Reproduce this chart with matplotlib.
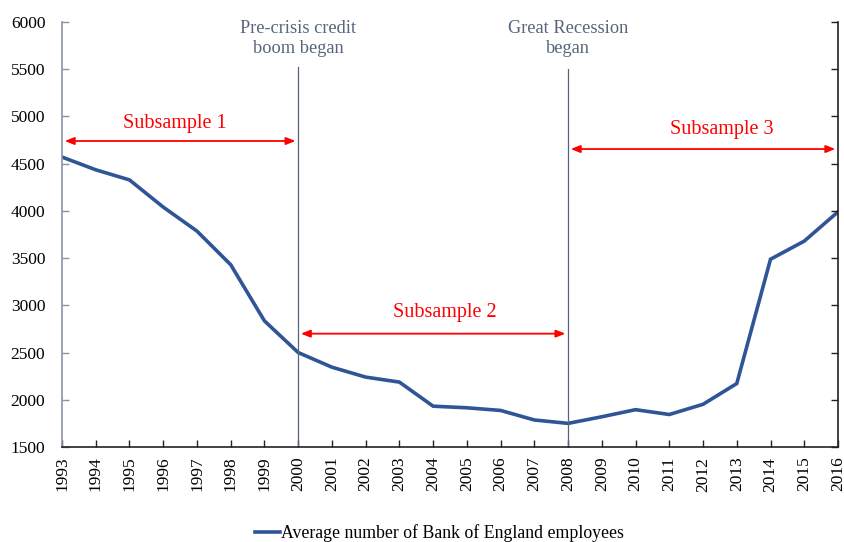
import matplotlib
matplotlib.use("Agg")
import matplotlib.pyplot as plt

years = list(range(1993, 2017))
employees = [4570, 4435, 4328, 4040, 3786, 3430, 2835, 2500, 2345, 2240, 2187,
             1932, 1915, 1887, 1786, 1750, 1820, 1895, 1844, 1952, 2172, 3488, 3680, 3990]
series_label = "Average number of Bank of England employees"

events = [2000, 2008]
event_labels = ["Pre-crisis credit\nboom began", "Great Recession\nbegan"]
event_tops = [5525, 5500]

sub_labels = ["Subsample 1", "Subsample 2", "Subsample 3"]
sub_ranges = [(1993, 2000), (2000, 2008), (2008, 2016)]
sub_arrow_y = [4740, 2700, 4655]
sub_text_pos = [(1996.35, 4930), (2004.35, 2925), (2012.55, 4865)]

plt.rcParams['font.family'] = ['Liberation Serif', 'DejaVu Serif']

fig = plt.figure(figsize=(8.45, 5.42), dpi=100)
ax = fig.add_axes([0.0734, 0.1753, 0.9183, 0.7841])

line_color = '#2f5597'
ax.plot(years, employees, color=line_color, lw=2.6, label=series_label, solid_joinstyle='miter')

ax.set_xlim(1993, 2016)
ax.set_ylim(1500, 6000)
ax.set_yticks(range(1500, 6001, 500))
ax.set_xticks(years)
ax.set_xticklabels([str(y) for y in years], rotation=90)

# right axis ticks without labels
ax2 = ax.twinx()
ax2.set_ylim(1500, 6000)
ax2.set_yticks(range(1500, 6001, 500))
ax2.set_yticklabels([])
ax2.tick_params(axis='y', direction='in', length=5, width=1, colors='#222222')
for s in ['top', 'left', 'bottom']:
    ax2.spines[s].set_visible(False)
ax2.spines['right'].set_color('#222222')
ax2.spines['right'].set_linewidth(1.2)

ax.spines['top'].set_visible(False)
ax.spines['right'].set_visible(False)
ax.spines['left'].set_color('#8a93a3')
ax.spines['left'].set_linewidth(1.2)
ax.spines['bottom'].set_color('#222222')
ax.spines['bottom'].set_linewidth(1.2)
ax.tick_params(axis='y', direction='in', length=5, width=1, color='#8a93a3', labelsize=12.5, pad=12)
ax.tick_params(axis='x', direction='in', length=5, width=1, color='#222222', labelsize=12.5, pad=7)

ev_color = '#56657a'
for x, lab, top in zip(events, event_labels, event_tops):
    ax.plot([x, x], [1500, top], color=ev_color, lw=0.9)
    ax.text(x, 6020, lab, ha='center', va='top', color=ev_color, fontsize=13.2, linespacing=1.25)

red = '#ff0000'
for (x0, x1), yv in zip(sub_ranges, sub_arrow_y):
    ax.annotate('', xy=(x1 - 0.08, yv), xytext=(x0 + 0.08, yv),
                arrowprops=dict(arrowstyle='<|-|>,head_length=0.55,head_width=0.22',
                                color=red, lw=1.3, shrinkA=0, shrinkB=0))
for lab, (tx, ty) in zip(sub_labels, sub_text_pos):
    ax.text(tx, ty, lab, ha='center', va='center', color=red, fontsize=14.5)

leg = fig.legend(loc='lower center', bbox_to_anchor=(0.52, -0.03), frameon=False,
                 fontsize=12.8, handlelength=1.4, handletextpad=0.1)

fig.savefig('out.png', dpi=100)
